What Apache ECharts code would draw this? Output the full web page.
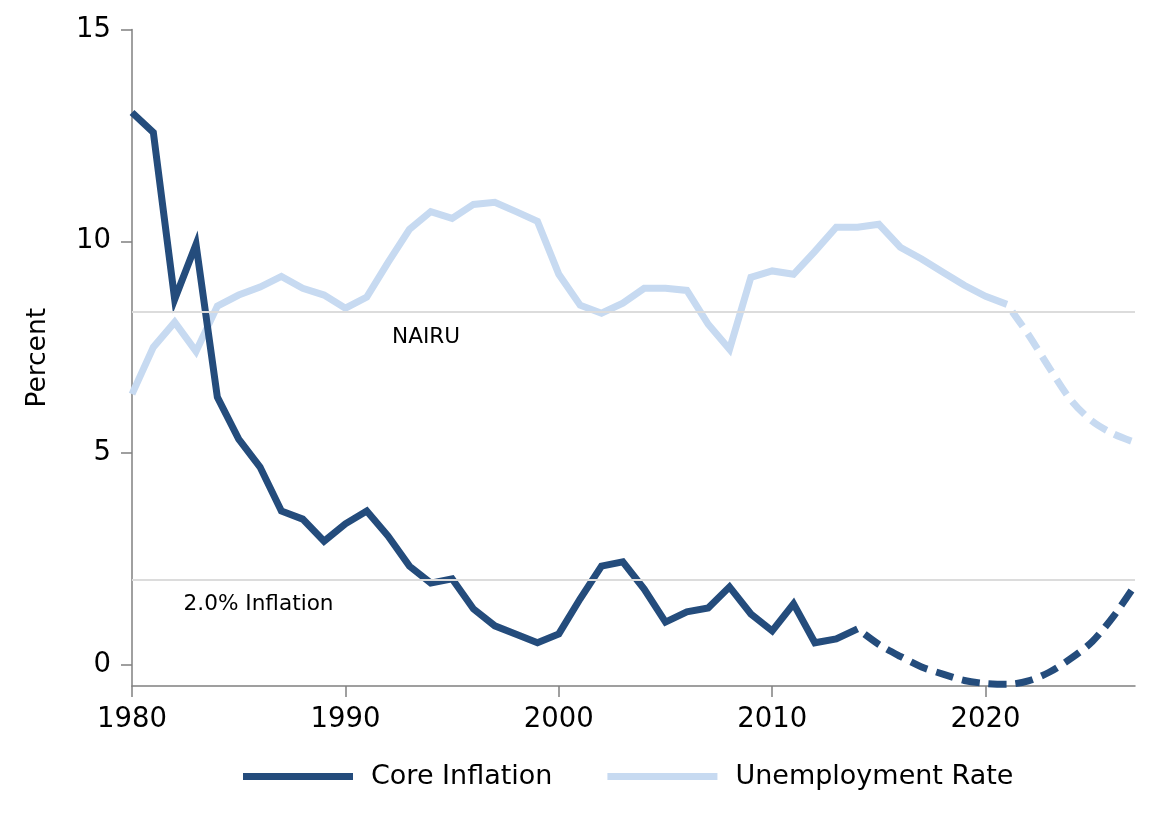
<!DOCTYPE html>
<html>
<head>
<meta charset="utf-8">
<script src="https://cdn.jsdelivr.net/npm/echarts@6/dist/echarts.min.js"></script>
<style>
  html, body { margin: 0; padding: 0; background: #fff; }
  #chart { width: 1161px; height: 834px; }
</style>
</head>
<body>
<div id="chart"></div>
<script>
// actual data 1980 onwards
var inflYears = [1980, 1981, 1982, 1983, 1984, 1985, 1986, 1987, 1988, 1989,
  1990, 1991, 1992, 1993, 1994, 1995, 1996, 1997, 1998, 1999,
  2000, 2001, 2002, 2003, 2004, 2005, 2006, 2007, 2008, 2009,
  2010, 2011, 2012, 2013, 2014]
var coreInflation = [13.04, 12.57, 8.63, 9.93, 6.32, 5.33, 4.67, 3.63, 3.44, 2.92,
  3.33, 3.63, 3.04, 2.33, 1.93, 2.03, 1.32, 0.92, 0.72, 0.52,
  0.73, 1.56, 2.33, 2.43, 1.79, 1.01, 1.25, 1.34, 1.84, 1.2,
  0.8, 1.44, 0.52, 0.61, 0.85]

var unempYears = [1980, 1981, 1982, 1983, 1984, 1985, 1986, 1987, 1988, 1989,
  1990, 1991, 1992, 1993, 1994, 1995, 1996, 1997, 1998, 1999,
  2000, 2001, 2002, 2003, 2004, 2005, 2006, 2007, 2008, 2009,
  2010, 2011, 2012, 2013, 2014, 2015, 2016, 2017, 2018, 2019,
  2020, 2021]
var unemployment = [6.39, 7.5, 8.09, 7.4, 8.47, 8.73, 8.92, 9.17, 8.89, 8.73,
  8.42, 8.68, 9.5, 10.28, 10.7, 10.54, 10.87, 10.92, 10.7, 10.47,
  9.22, 8.49, 8.3, 8.54, 8.89, 8.89, 8.84, 8.04, 7.45, 9.15,
  9.3, 9.22, 9.76, 10.33, 10.33, 10.4, 9.86, 9.58, 9.27, 8.96,
  8.7, 8.51]

// projections (dashed)
var inflProjYears = [2014, 2015, 2016, 2017, 2018, 2019, 2020, 2021, 2022, 2023, 2024, 2025, 2026, 2027]
var inflProjection = [0.85, 0.48, 0.2, -0.05, -0.22, -0.37, -0.44, -0.46, -0.38, -0.17, 0.15, 0.55, 1.15, 1.88]
var unempProjYears = [2021, 2022, 2023, 2024, 2025, 2026, 2027]
var unempProjection = [8.51, 7.8, 7.0, 6.25, 5.75, 5.45, 5.25]

var nairu = 8.33
var inflationTarget = 2.0

var xTicks = [1980, 1990, 2000, 2010, 2020]
var yTicks = [0, 5, 10, 15]

function pairs(xs, ys) {
  return xs.map(function (x, i) { return [x, ys[i]] })
}

var darkBlue = '#244c7c'
var lightBlue = '#c7daf1'
var font = 'DejaVu Sans'

var myChart = echarts.init(document.getElementById('chart'))
var option = {
  animation: false,
  textStyle: { fontFamily: font },
  grid: { left: 132, right: 26, top: 29.5, bottom: 148 },
  legend: {
    data: ['Core Inflation', 'Unemployment Rate'],
    left: 243,
    top: 763,
    padding: 0,
    icon: 'rect',
    itemWidth: 110,
    itemHeight: 7,
    itemGap: 55,
    textStyle: { fontSize: 27, color: '#000', fontFamily: font, padding: [0, 0, 0, 13] }
  },
  xAxis: {
    type: 'value',
    min: 1980,
    max: 2027,
    axisLine: { onZero: false, lineStyle: { color: '#808080', width: 1.5 } },
    axisTick: { customValues: xTicks, length: 11, lineStyle: { color: '#808080', width: 1.5 } },
    axisLabel: {
      customValues: xTicks, fontSize: 27.5, color: '#000', margin: 20, fontFamily: font,
      formatter: function (v) { return String(v) }
    },
    splitLine: { show: false }
  },
  yAxis: {
    type: 'value',
    min: -0.5,
    max: 15,
    name: 'Percent',
    nameLocation: 'middle',
    nameGap: 80,
    nameTextStyle: { fontSize: 26.5, color: '#000', fontFamily: font },
    axisLine: { show: true, onZero: false, lineStyle: { color: '#808080', width: 1.5 } },
    axisTick: { show: true, customValues: yTicks, length: 11, lineStyle: { color: '#808080', width: 1.5 } },
    axisLabel: {
      customValues: yTicks, fontSize: 27.5, color: '#000', margin: 21, fontFamily: font,
      padding: [8, 0, 0, 0]
    },
    splitLine: { show: false }
  },
  series: [
    {
      name: 'refs',
      type: 'line',
      z: 1,
      data: [],
      markLine: {
        silent: true,
        symbol: 'none',
        label: { show: false },
        lineStyle: { color: '#dcdcdc', width: 2, type: 'solid' },
        data: [{ yAxis: nairu }, { yAxis: inflationTarget }]
      },
      markPoint: {
        silent: true,
        symbol: 'circle',
        symbolSize: 1,
        itemStyle: { color: 'rgba(0,0,0,0)' },
        label: { show: true, position: 'inside', color: '#000', fontSize: 21.6, fontFamily: font },
        data: [
          { coord: [1993.78, 7.74], label: { formatter: 'NAIRU' } },
          { coord: [1985.93, 1.43], label: { formatter: '2.0% Inflation' } }
        ]
      }
    },
    {
      name: 'Unemployment Rate',
      type: 'line',
      z: 2,
      showSymbol: false,
      color: lightBlue,
      lineStyle: { width: 7, color: lightBlue, join: 'miter' },
      data: pairs(unempYears, unemployment)
    },
    {
      name: 'Unemployment projection',
      type: 'line',
      z: 2,
      showSymbol: false,
      smooth: 0.3,
      color: lightBlue,
      lineStyle: { width: 7, color: lightBlue, type: [18, 9], dashOffset: 18 },
      data: pairs(unempProjYears, unempProjection)
    },
    {
      name: 'Core Inflation',
      type: 'line',
      z: 3,
      showSymbol: false,
      color: darkBlue,
      lineStyle: { width: 7, color: darkBlue, join: 'miter' },
      data: pairs(inflYears, coreInflation)
    },
    {
      name: 'Inflation projection',
      type: 'line',
      z: 3,
      showSymbol: false,
      smooth: 0.3,
      color: darkBlue,
      lineStyle: { width: 7, color: darkBlue, type: [18, 9], dashOffset: 18 },
      data: pairs(inflProjYears, inflProjection)
    }
  ]
}
myChart.setOption(option)
</script>
</body>
</html>
